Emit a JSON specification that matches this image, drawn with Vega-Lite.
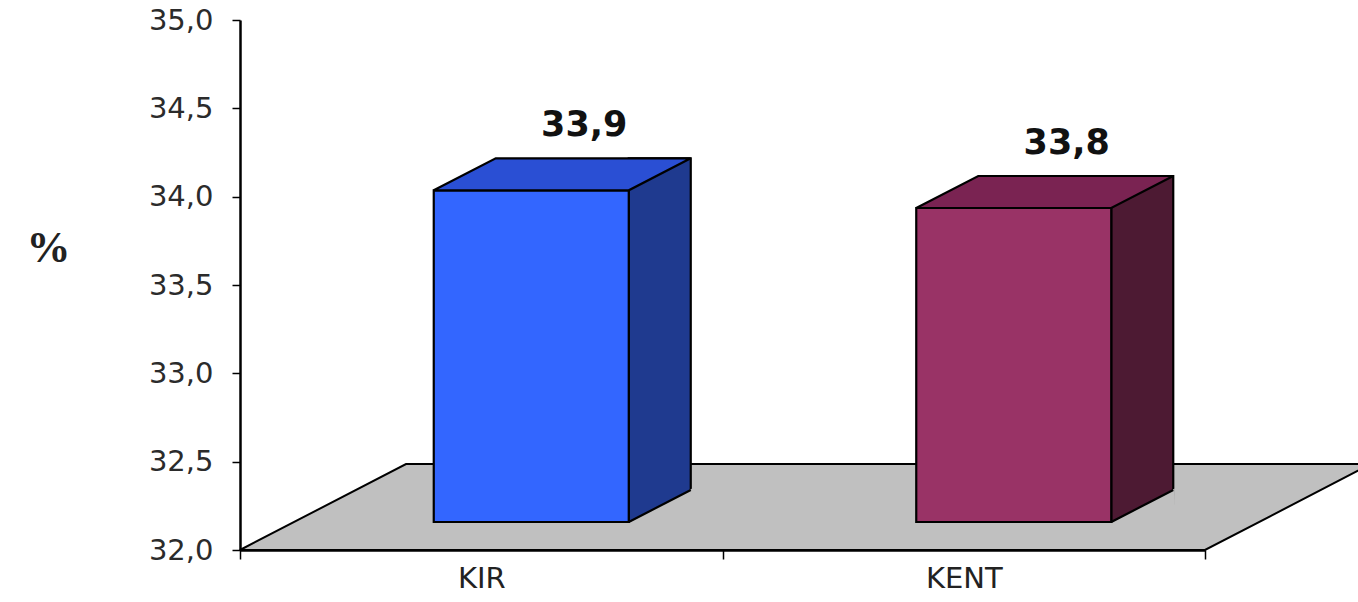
{
  "$schema": "https://vega.github.io/schema/vega-lite/v6.json",
  "width": 965,
  "height": 530,
  "autosize": {"type": "none"},
  "padding": {"left": 240, "top": 20, "right": 153, "bottom": 52},
  "background": "white",
  "config": {
    "view": {"stroke": null},
    "locale": {"number": {"decimal": ",", "thousands": ".", "grouping": [3], "currency": ["", " €"]}}
  },
  "data": {"values": [
    {"cat": "KIR", "value": 33.9},
    {"cat": "KENT", "value": 33.8}
  ]},
  "layer": [
    {
      "data": {"values": [{}]},
      "mark": {"type": "point", "shape": "M-241.25,0L723.75,0L889.75,-86L-75.25,-86Z", "size": 4, "filled": true, "fill": "#C0C0C0", "stroke": "#000000", "strokeWidth": 2, "opacity": 1},
      "encoding": {
        "x": {"datum": "KIR", "type": "nominal", "scale": {"domain": ["KIR", "KENT"], "paddingInner": 0, "paddingOuter": 0},
              "axis": {"title": null, "tickBand": "extent", "tickSize": 9, "tickColor": "#000000", "tickWidth": 1.5, "domainColor": "#000000", "domainWidth": 2.5, "labelFont": "DejaVu Sans", "labelFontSize": 29, "labelColor": "#222222", "labelPadding": 5, "labelAngle": 0, "zindex": 1}},
        "y": {"datum": 32, "type": "quantitative", "scale": {"domain": [32, 35], "nice": false, "zero": false},
              "axis": {"title": "%", "titleAngle": 0, "titleX": -192, "titleY": 228, "titleAlign": "center", "titleBaseline": "middle", "titleFont": "Liberation Serif", "titleFontWeight": "bold", "titleFontSize": 44, "titleColor": "#222222",
                       "values": [32, 32.5, 33, 33.5, 34, 34.5, 35], "format": ".1f", "grid": false, "tickSize": 8, "tickColor": "#000000", "tickWidth": 1.5, "domainColor": "#000000", "domainWidth": 2.5, "labelFont": "DejaVu Sans", "labelFontSize": 29, "labelColor": "#2b2b2b", "labelPadding": 19, "labelBaseline": "alphabetic", "labelOffset": 9, "zindex": 1}}
      }
    },
    {
      "mark": {"type": "bar", "width": 62, "xOffset": 178.5, "yOffset": -56, "y2Offset": -28, "stroke": "#000000", "strokeWidth": 2.2},
      "encoding": {
        "x": {"field": "cat", "type": "nominal", "sort": ["KIR", "KENT"]},
        "y": {"field": "value", "type": "quantitative"},
        "y2": {"datum": 32},
        "fill": {"condition": {"test": "datum.cat === 'KIR'", "value": "#1F3A8F"}, "value": "#4D1A33"}
      }
    },
    {
      "mark": {"type": "point", "shape": "M146,-26.5L211,-61.5L211.5,-25.5Z", "size": 4, "filled": true, "fill": "#C0C0C0", "strokeWidth": 0, "opacity": 1},
      "encoding": {
        "x": {"field": "cat", "type": "nominal", "sort": ["KIR", "KENT"]},
        "y": {"datum": 32, "type": "quantitative"}
      }
    },
    {
      "mark": {"type": "point", "shape": "M147.5,-28L209.5,-60", "size": 4, "filled": false, "stroke": "#000000", "strokeWidth": 2.2, "opacity": 1},
      "encoding": {
        "x": {"field": "cat", "type": "nominal", "sort": ["KIR", "KENT"]},
        "y": {"datum": 32, "type": "quantitative"}
      }
    },
    {
      "mark": {"type": "bar", "width": 195, "xOffset": 50, "yOffset": -24, "y2Offset": -28, "stroke": "#000000", "strokeWidth": 2.2},
      "encoding": {
        "x": {"field": "cat", "type": "nominal", "sort": ["KIR", "KENT"]},
        "y": {"field": "value", "type": "quantitative"},
        "y2": {"datum": 32},
        "fill": {"condition": {"test": "datum.cat === 'KIR'", "value": "#3366FF"}, "value": "#993366"}
      }
    },
    {
      "mark": {"type": "point", "shape": "M-47.5,-24L147.5,-24L209.5,-56L14.5,-56Z", "size": 4, "filled": true, "stroke": "#000000", "strokeWidth": 2.2, "opacity": 1},
      "encoding": {
        "x": {"field": "cat", "type": "nominal", "sort": ["KIR", "KENT"]},
        "y": {"field": "value", "type": "quantitative"},
        "fill": {"condition": {"test": "datum.cat === 'KIR'", "value": "#2A4FD4"}, "value": "#7A2352"}
      }
    },
    {
      "mark": {"type": "text", "xOffset": 103, "yOffset": -78, "align": "center", "baseline": "alphabetic", "font": "DejaVu Sans", "fontWeight": "bold", "fontSize": 35, "fill": "#111111"},
      "encoding": {
        "x": {"field": "cat", "type": "nominal", "sort": ["KIR", "KENT"]},
        "y": {"field": "value", "type": "quantitative"},
        "text": {"field": "value", "type": "quantitative", "format": ".1f"}
      }
    }
  ]
}
